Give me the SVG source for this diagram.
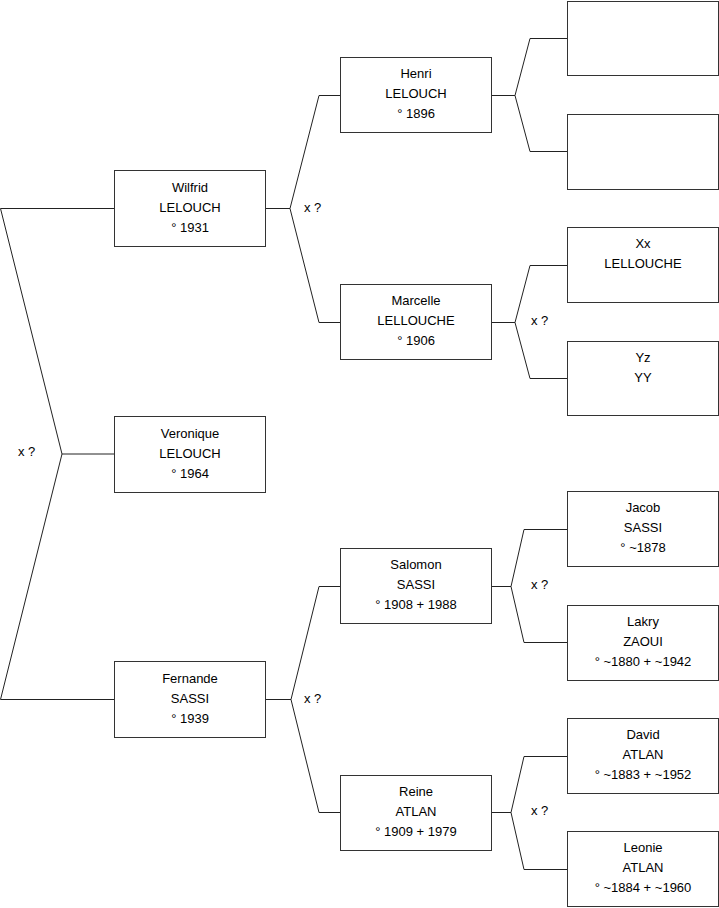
<svg xmlns="http://www.w3.org/2000/svg" width="719" height="908" viewBox="0 0 719 908">
<style>
.box{fill:#fff;stroke:#333;stroke-width:1}
.c{fill:none;stroke:#222;stroke-width:1}
text{font-family:"Liberation Sans",Arial,sans-serif;font-size:13px;fill:#000}
.t{text-anchor:middle}
</style>
<rect width="719" height="908" fill="#fff"/>
<g id="connectors">
<polyline class="c" points="114.5,208.5 0.5,208.5 62,454 0.5,699.5 114.5,699.5"/>
<line class="c" x1="62" y1="454" x2="114.5" y2="454"/>
<polyline class="c" points="265.5,208.5 290,208.5"/>
<polyline class="c" points="340.5,95.5 319,95.5 290,208.5 319,322.5 340.5,322.5"/>
<polyline class="c" points="265.5,699.5 291,699.5"/>
<polyline class="c" points="340.5,586.5 319,586.5 291,699.5 319,812.5 340.5,812.5"/>
<polyline class="c" points="491.5,95.5 515,95.5"/>
<polyline class="c" points="567.5,38.5 530,38.5 515,95.5 530,151.5 567.5,151.5"/>
<polyline class="c" points="491.5,322.5 515,322.5"/>
<polyline class="c" points="567.5,265.5 530,265.5 515,322.5 530,378.5 567.5,378.5"/>
<polyline class="c" points="491.5,586.5 511,586.5"/>
<polyline class="c" points="567.5,529.5 524,529.5 511,586.5 524,642.5 567.5,642.5"/>
<polyline class="c" points="491.5,812.5 511,812.5"/>
<polyline class="c" points="567.5,756.5 524,756.5 511,812.5 524,869.5 567.5,869.5"/>
<text x="18" y="456">x ?</text>
<text x="304" y="212">x ?</text>
<text x="304" y="703">x ?</text>
<text x="531" y="325">x ?</text>
<text x="531" y="589">x ?</text>
<text x="531" y="815">x ?</text>
</g>
<g id="wilfrid"><rect class="box" x="114.5" y="170.5" width="151" height="76"/><text class="t" x="190" y="191.5">Wilfrid</text><text class="t" x="190" y="211.5">LELOUCH</text><text class="t" x="190" y="231.5">° 1931</text></g>
<g id="veronique"><rect class="box" x="114.5" y="416.5" width="151" height="76"/><text class="t" x="190" y="437.5">Veronique</text><text class="t" x="190" y="457.5">LELOUCH</text><text class="t" x="190" y="477.5">° 1964</text></g>
<g id="fernande"><rect class="box" x="114.5" y="661.5" width="151" height="76"/><text class="t" x="190" y="682.5">Fernande</text><text class="t" x="190" y="702.5">SASSI</text><text class="t" x="190" y="722.5">° 1939</text></g>
<g id="henri"><rect class="box" x="340.5" y="57.5" width="151" height="75"/><text class="t" x="416" y="78">Henri</text><text class="t" x="416" y="98">LELOUCH</text><text class="t" x="416" y="118">° 1896</text></g>
<g id="marcelle"><rect class="box" x="340.5" y="284.5" width="151" height="75"/><text class="t" x="416" y="305">Marcelle</text><text class="t" x="416" y="325">LELLOUCHE</text><text class="t" x="416" y="345">° 1906</text></g>
<g id="salomon"><rect class="box" x="340.5" y="548.5" width="151" height="75"/><text class="t" x="416" y="569">Salomon</text><text class="t" x="416" y="589">SASSI</text><text class="t" x="416" y="609">° 1908 + 1988</text></g>
<g id="reine"><rect class="box" x="340.5" y="775.5" width="151" height="75"/><text class="t" x="416" y="796">Reine</text><text class="t" x="416" y="816">ATLAN</text><text class="t" x="416" y="836">° 1909 + 1979</text></g>
<g id="empty1"><rect class="box" x="567.5" y="1.5" width="151" height="74"/></g>
<g id="empty2"><rect class="box" x="567.5" y="114.5" width="151" height="75"/></g>
<g id="xx"><rect class="box" x="567.5" y="227.5" width="151" height="75"/><text class="t" x="643" y="248">Xx</text><text class="t" x="643" y="268">LELLOUCHE</text></g>
<g id="yz"><rect class="box" x="567.5" y="341.5" width="151" height="74"/><text class="t" x="643" y="362">Yz</text><text class="t" x="643" y="382">YY</text></g>
<g id="jacob"><rect class="box" x="567.5" y="491.5" width="151" height="75"/><text class="t" x="643" y="512">Jacob</text><text class="t" x="643" y="532">SASSI</text><text class="t" x="643" y="552">° ~1878</text></g>
<g id="lakry"><rect class="box" x="567.5" y="605.5" width="151" height="75"/><text class="t" x="643" y="626">Lakry</text><text class="t" x="643" y="646">ZAOUI</text><text class="t" x="643" y="666">° ~1880 + ~1942</text></g>
<g id="david"><rect class="box" x="567.5" y="718.5" width="151" height="75"/><text class="t" x="643" y="739">David</text><text class="t" x="643" y="759">ATLAN</text><text class="t" x="643" y="779">° ~1883 + ~1952</text></g>
<g id="leonie"><rect class="box" x="567.5" y="831.5" width="151" height="75"/><text class="t" x="643" y="852">Leonie</text><text class="t" x="643" y="872">ATLAN</text><text class="t" x="643" y="892">° ~1884 + ~1960</text></g>
</svg>
